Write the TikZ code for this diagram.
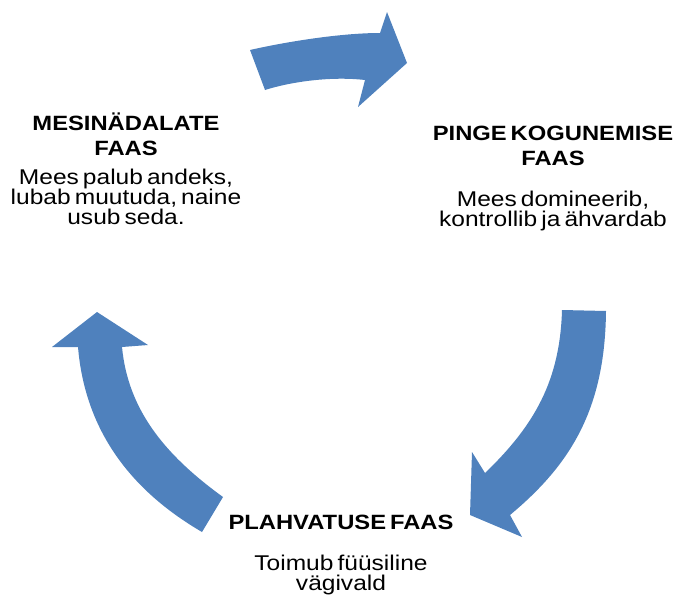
\documentclass[tikz,border=0pt]{standalone}
\usepackage{fontspec}
\usepackage{tkz-euclide}
\usetikzlibrary{positioning}
\setmainfont{Liberation Sans}[FakeStretch=1.15, WordSpace=0.6]
\definecolor{cycleblue}{RGB}{79,129,189}
\tikzset{>=stealth}
\tikzset{
  phasetitle/.style={align=center, inner sep=0pt, font=\fontsize{15.5}{19}\selectfont\bfseries},
  phasetext/.style={align=center, inner sep=0pt, font=\fontsize{16}{15}\selectfont},
  cyclearrow/.style={fill=cycleblue, draw=none}
}

\begin{document}
\begin{tikzpicture}[x=0.75pt, y=-0.75pt]
    \useasboundingbox (0,0) rectangle (678,596);
    % corner points of the three arrows
    \tkzDefPoints{250/50/A1, 380/33/A2, 387/12/A3, 407/63/A4, 358/107/A5, 365/80/A6, 265/90/A7}
    \tkzDefPoints{562/310/B1, 606/311/B2, 510/515/B3, 522/537/B4, 470/515/B5, 472/452/B6, 485/473/B7}
    \tkzDefPoints{97/312/C1, 148/345/C2, 122/347/C3, 223/497/C4, 202/532/C5, 78/347/C6, 52/347/C7}
    \fill[cyclearrow] (A1) .. controls (285,42) and (340,33) .. (A2) -- (A3) -- (A4) -- (A5) -- (A6)
        .. controls (330,76) and (290,82) .. (A7) -- cycle;
    \fill[cyclearrow] (B1) -- (B2) .. controls (605,410) and (570,465) .. (B3) -- (B4) -- (B5) -- (B6) -- (B7)
        .. controls (535,425) and (560,380) .. (B1) -- cycle;
    \fill[cyclearrow] (C1) -- (C2) -- (C3) .. controls (128,410) and (165,455) .. (C4) -- (C5)
        .. controls (130,490) and (85,430) .. (C6) -- (C7) -- cycle;
    % phases
    \node[phasetitle] (honeytitle) at (126,134) {MESINÄDALATE\\FAAS};
    \node[phasetext, below=10pt of honeytitle] (honeytext) {Mees palub andeks,\\lubab muutuda, naine\\usub seda.};
    \node[phasetitle] (tensiontitle) at (553,146) {PINGE KOGUNEMISE\\FAAS};
    \node[phasetext, below=18.5pt of tensiontitle] (tensiontext) {Mees domineerib,\\kontrollib ja ähvardab};
    \node[phasetitle] (burstitle) at (341,522) {PLAHVATUSE FAAS};
    \node[phasetext, below=19pt of burstitle] (bursttext) {Toimub füüsiline\\vägivald};
\end{tikzpicture}
\end{document}
